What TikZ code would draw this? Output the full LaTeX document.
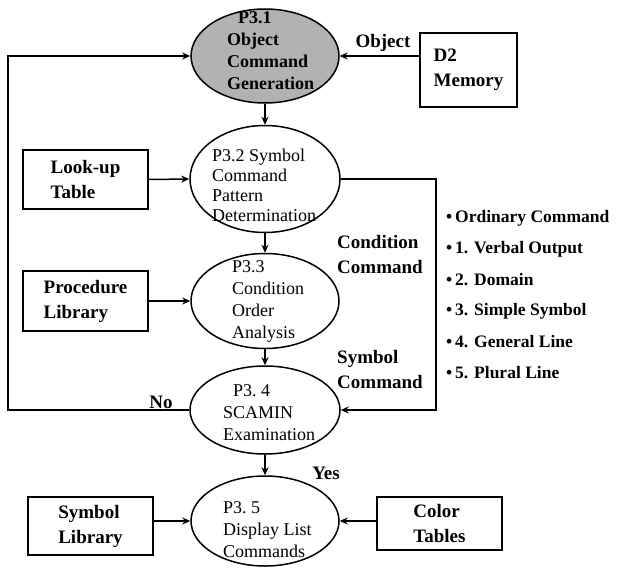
\documentclass[tikz,border=0pt]{standalone}
\usepackage{fontspec}
\setmainfont{Liberation Serif}
\usetikzlibrary{shapes.geometric,arrows.meta}
\tikzset{
  proc/.style={draw,ellipse,line width=1.5pt,inner sep=0pt},
  store/.style={draw,line width=1.5pt,inner sep=0pt,align=left,font=\fontsize{19}{25}\selectfont\bfseries},
  ptxt/.style={anchor=west,align=left,inner sep=0pt,font=\fontsize{18}{22}\selectfont},
  lbl/.style={align=left,inner sep=0pt,font=\fontsize{19}{25}\selectfont\bfseries},
  arr/.style={line width=1.5pt,-{Stealth[length=8pt,width=7pt]}}
}
\begin{document}
\begin{tikzpicture}[x=1pt,y=-1pt]
\useasboundingbox (0,0) rectangle (617,567);
% processes
\node[proc,fill=black!30,minimum width=148pt,minimum height=94pt] (p31) at (265,56) {};
\node[proc,minimum width=150pt,minimum height=107pt] (p32) at (265,179) {};
\node[proc,minimum width=148pt,minimum height=95pt] (p33) at (265,301) {};
\node[proc,minimum width=150pt,minimum height=88pt] (p34) at (265,410) {};
\node[proc,minimum width=148pt,minimum height=90pt] (p35) at (265,521) {};
\node[ptxt,font=\fontsize{18}{22}\selectfont\bfseries] (p31t) at (227,51) {\hspace*{11pt}P3.1\\Object\\Command\\Generation};
\node[ptxt,font=\fontsize{18}{20}\selectfont] (p32t) at (212,185) {P3.2 Symbol\\Command\\Pattern\\Determination};
\node[ptxt] (p33t) at (232,301) {P3.3\\Condition\\Order\\Analysis};
\node[ptxt] (p34t) at (223,413) {\hspace*{10pt}P3.~4\\SCAMIN\\Examination};
\node[ptxt] (p35t) at (223,530) {P3.~5\\Display List\\Commands};
% data stores
\node[store,minimum width=97pt,minimum height=74pt] (d2) at (468.5,70) {D2\\Memory};
\node[store,minimum width=125pt,minimum height=59pt] (lut) at (85.5,179.5) {Look-up\\Table};
\node[store,minimum width=125pt,minimum height=60pt] (plib) at (85.5,301) {Procedure\\Library};
\node[store,minimum width=125pt,minimum height=58pt] (slib) at (90.5,526) {Symbol\\Library};
\node[store,minimum width=125pt,minimum height=53pt] (ctab) at (439.5,523.5) {Color\\Tables};
% flows
\draw[arr] (d2.west |- p31) -- (p31.east);
\draw[arr] (p31.south) -- (p32.north);
\draw[arr] (p32.south) -- (p33.north);
\draw[arr] (p33.south) -- (p34.north);
\draw[arr] (p34.south) -- (p35.north);
\draw[arr] (lut.east) -- (p32.west);
\draw[arr] (plib.east) -- (p33.west);
\draw[arr] (slib.east |- p35) -- (p35.west);
\draw[arr] (ctab.west |- p35) -- (p35.east);
\coordinate (lx) at (8,56);
\coordinate (rx) at (436,179);
\draw[arr] (p34.west) -| (lx) -- (p31.west);
\draw[arr] (p32.east) -- (rx) |- (p34.east);
% labels
\node[lbl] (lobj) at (383,43) {Object};
\node[lbl,anchor=west] (lcond) at (337,254) {Condition\\Command};
\node[lbl,anchor=west] (lsym) at (337,369) {Symbol\\Command};
\node[lbl] (lno) at (161,402) {No};
\node[lbl] (lyes) at (326,473) {Yes};
\foreach \t [count=\i] in {Ordinary Command,1. Verbal Output,2. Domain,3. Simple Symbol,4. General Line,5. Plural Line}
  \node[lbl,anchor=west,font=\fontsize{17.5}{20}\selectfont\bfseries] (li\i) at (446,{187+31*\i}) {\textbullet\,\t};
\end{tikzpicture}
\end{document}
